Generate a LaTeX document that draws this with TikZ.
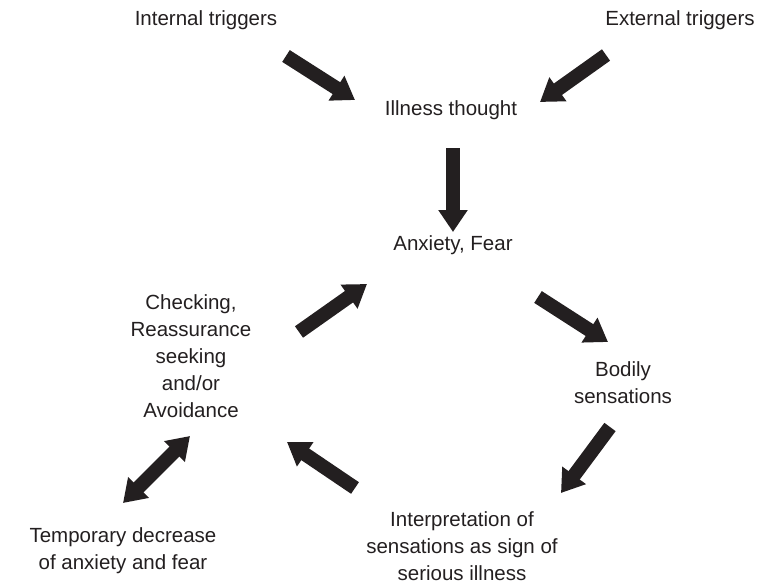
\documentclass[tikz,border=0pt]{standalone}
\usepackage{fontspec}
\setmainfont{Liberation Sans}
\usetikzlibrary{arrows.meta}
\definecolor{ink}{RGB}{35,31,32}
\begin{document}
\begin{tikzpicture}[x=1pt,y=-1pt,
  lbl/.style={inner sep=0pt,align=center,text=ink,font=\fontsize{20.5}{27}\selectfont},
  blk/.style={draw=ink,line width=14pt,-{Triangle[width=28pt,length=22pt]}},
  blkboth/.style={draw=ink,line width=14pt,{Triangle[width=28pt,length=22pt]}-{Triangle[width=28pt,length=22pt]}}]
\useasboundingbox (0,0) rectangle (761,586);
\node[lbl] (int) at (206,20) {Internal triggers};
\node[lbl] (ext) at (680,20) {External triggers};
\node[lbl] (ill) at (451,110) {Illness thought};
\node[lbl] (anx) at (453,245) {Anxiety, Fear};
\node[lbl] (chk) at (191,356) {Checking,\\Reassurance\\seeking\\and/or\\Avoidance};
\node[lbl] (bod) at (623,383) {Bodily\\sensations};
\node[lbl] (intp) at (462,546) {Interpretation of\\sensations as sign of\\serious illness};
\node[lbl] (tmp) at (123,551) {Temporary decrease\\of anxiety and fear};
\coordinate (a1s) at (286,56);  \coordinate (a1e) at (355,100);
\coordinate (a2s) at (606,55);  \coordinate (a2e) at (540,102);
\coordinate (a3s) at (453,148); \coordinate (a3e) at (453,232);
\coordinate (a4s) at (538,297); \coordinate (a4e) at (608,342);
\coordinate (a5s) at (610,427); \coordinate (a5e) at (561,493);
\coordinate (a6s) at (355,488); \coordinate (a6e) at (287,442);
\coordinate (a7s) at (299,332); \coordinate (a7e) at (367,284);
\coordinate (a8s) at (190,436); \coordinate (a8e) at (123,503);
\draw[blk] (a1s) -- (a1e);
\draw[blk] (a2s) -- (a2e);
\draw[blk] (a3s) -- (a3e);
\draw[blk] (a4s) -- (a4e);
\draw[blk] (a5s) -- (a5e);
\draw[blk] (a6s) -- (a6e);
\draw[blk] (a7s) -- (a7e);
\draw[blkboth] (a8s) -- (a8e);
\end{tikzpicture}
\end{document}
